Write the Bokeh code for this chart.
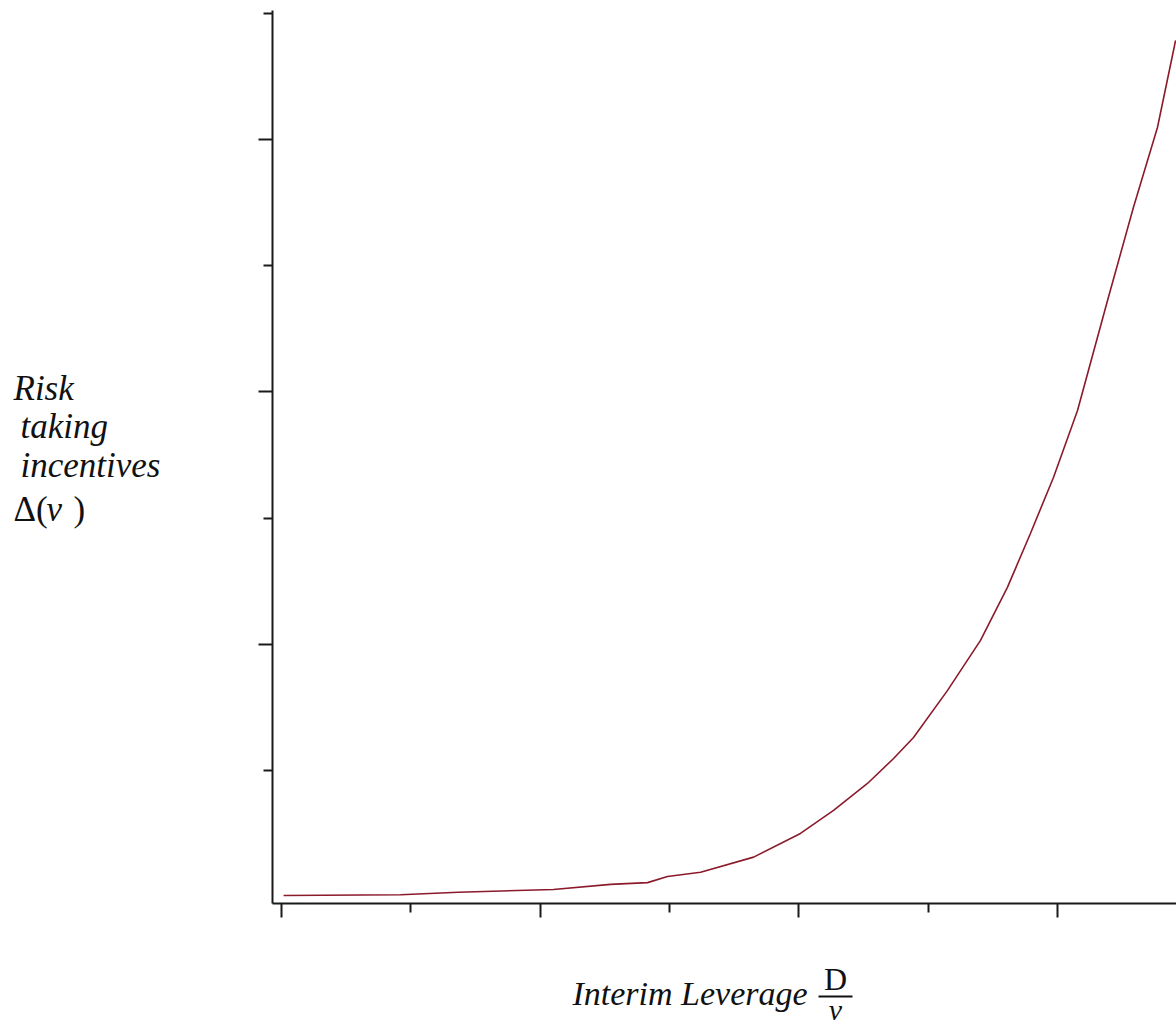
from bokeh.plotting import figure
from bokeh.models import Range1d, FixedTicker, Label, Arrow
from bokeh.layouts import row, column
from bokeh.embed import file_html
from bokeh.resources import INLINE

# Curve: interim leverage (x) vs risk-taking incentives (y)
leverage = [0.008, 0.46, 0.684, 1.051, 1.272, 1.415, 1.492, 1.62, 1.825, 2.006,
            2.134, 2.265, 2.366, 2.443, 2.574, 2.702, 2.806, 2.895, 2.984, 3.077,
            3.193, 3.293, 3.386, 3.448, 3.456]
incentives = [0.004, 0.007, 0.017, 0.028, 0.048, 0.055, 0.079, 0.096, 0.156, 0.25,
              0.341, 0.448, 0.547, 0.630, 0.816, 1.015, 1.225, 1.439, 1.661, 1.926,
              2.362, 2.731, 3.048, 3.353, 3.393]

x_major = [0, 1, 2, 3]
x_minor = [0.5, 1.5, 2.5]
y_major = [1, 2, 3]
y_minor = [0.5, 1.5, 2.5, 3.5]

XS = 258.7   # px per x unit
YS = 252.3   # px per y unit
X0 = (272 - 281) / XS
Y0 = (896 - 903) / YS

LEFT_W = 250
MAIN_H = 925
FONT = "Liberation Serif"
INK = "#111111"

# ---------------- main plot ----------------
p = figure(width=1176 - LEFT_W, height=MAIN_H, output_backend="svg", toolbar_location=None,
           x_range=Range1d(X0, X0 + 904 / XS),
           y_range=Range1d(Y0, Y0 + 893 / YS),
           min_border_left=272 - LEFT_W, min_border_right=0,
           min_border_top=10, min_border_bottom=MAIN_H - 903)
p.outline_line_color = None
p.xgrid.visible = False
p.ygrid.visible = False

p.line(leverage, incentives, line_color="#8b1a2b", line_width=1.6)

for ax, maj, mnr in ((p.xaxis[0], x_major, x_minor), (p.yaxis[0], y_major, y_minor)):
    ax.ticker = FixedTicker(ticks=maj, minor_ticks=mnr)
    ax.axis_line_color = "#1a1a1a"
    ax.axis_line_width = 2
    ax.major_tick_line_color = "#1a1a1a"
    ax.minor_tick_line_color = "#1a1a1a"
    ax.major_tick_line_width = 2
    ax.minor_tick_line_width = 2
    ax.major_tick_in = 0
    ax.minor_tick_in = 0
    ax.major_tick_out = 14
    ax.minor_tick_out = 9
    ax.major_label_text_color = None
    ax.major_label_text_font_size = "0px"
    ax.major_label_standoff = 0


def text_panel(w, h):
    f = figure(width=w, height=h, output_backend="svg", toolbar_location=None,
               x_range=Range1d(0, w), y_range=Range1d(h, 0),
               x_axis_location=None, y_axis_location=None, min_border=0)
    f.outline_line_color = None
    f.grid.visible = False
    return f


def lab(f, text, x, y, style="italic", size="34px", align="left"):
    f.add_layout(Label(x=x, y=y, text=text, text_font=FONT,
                       text_font_style=style, text_font_size=size,
                       text_color=INK, text_align=align,
                       text_baseline="alphabetic"))

# ---------------- left panel: y title ----------------
lp = text_panel(LEFT_W, MAIN_H)
LS = "35px"
lab(lp, "Risk", 13, 392, size=LS)
lab(lp, "taking", 20, 431, size=LS)
lab(lp, "incentives", 20, 471, size=LS)
lab(lp, "Δ(", 13, 517, style="normal", size=LS)
lab(lp, "v", 46, 517, size=LS)
lab(lp, ")", 73, 517, style="normal", size=LS)

# ---------------- bottom panel: x title ----------------
BH = 1029 - MAIN_H
bp = text_panel(1176, BH)
lab(bp, "Interim Leverage", 572, 993 - MAIN_H)
lab(bp, "D", 835, 978 - MAIN_H, style="normal", size="32px", align="center")
bp.add_layout(Arrow(end=None, x_start=818, y_start=996 - MAIN_H, x_end=852, y_end=996 - MAIN_H,
                    line_color=INK, line_width=2))
lab(bp, "v", 835, 1009 - MAIN_H, size="30px", align="center")

layout = column(row(lp, p, spacing=0), bp, spacing=0)
open("out.html", "w").write(file_html(layout, INLINE))
